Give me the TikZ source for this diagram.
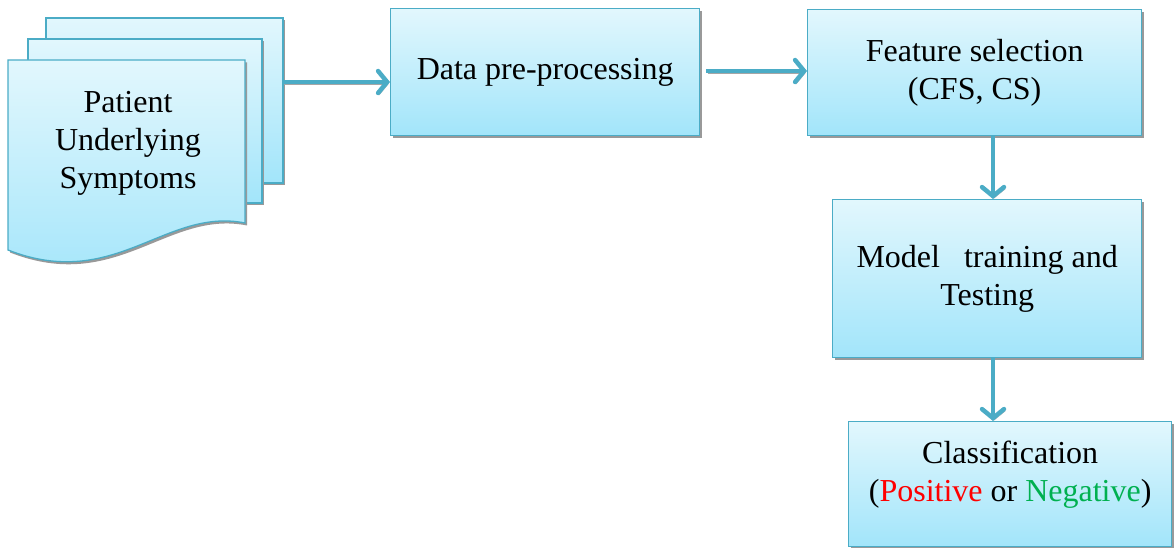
\documentclass[tikz,border=0pt]{standalone}
\usepackage{fontspec}
\setmainfont{Liberation Serif}
\usepackage{tikz}
\usetikzlibrary{arrows.meta, positioning, shadows}
\usepackage{xcolor}

\definecolor{edgeblue}{HTML}{4BACC6}
\definecolor{filltop}{HTML}{E2F7FD}
\definecolor{fillbot}{HTML}{A2E5FA}
\definecolor{posred}{HTML}{FF0000}
\definecolor{neggreen}{HTML}{00B050}

\begin{document}
\begin{tikzpicture}[
    x=1pt, y=-1pt,
    sheet/.style={draw=edgeblue, line width=1.3pt, top color=filltop, bottom color=fillbot,
                  drop shadow={shadow xshift=2pt, shadow yshift=-2.5pt, fill=black!40, opacity=1}},
    process/.style={sheet, rectangle, anchor=north west, align=center,
                    inner sep=0pt, font=\fontsize{32}{38}\selectfont},
    flow/.style={draw=edgeblue, line width=4.5pt,
                 -{Straight Barb[length=9pt, width=22pt, line cap=round]},
                 preaction={draw=black!35, transform canvas={xshift=1.2pt, yshift=-2pt}}},
]
\useasboundingbox (0,0) rectangle (1176,548);

% stacked sheets for the input records
\path[sheet] (46,18) rectangle (283,183);
\path[sheet] (28,39) rectangle (262,203);
\path[sheet] (8,60) -- (245,60) -- (245,223)
    .. controls (165,207) and (115,292) .. (8,250) -- cycle;
\node[align=center, font=\fontsize{32}{38}\selectfont] (docs) at (128,143)
    {Patient\\Underlying\\Symptoms};
\coordinate (docsout) at (283,82);

\node[process, minimum width=309pt, minimum height=127pt] (prep) at (390,8)
    {Data pre-processing};
\node[process, minimum width=334pt, minimum height=126pt] (feat) at (807,9)
    {Feature selection\\(CFS, CS)};
\node[process, minimum width=309pt, minimum height=158pt] (model) at (832,199)
    {Model\ \ \ training and\\Testing};
\node[process, minimum width=323pt, minimum height=125pt] (cls) at (848,421)
    {Classification\\(\textcolor{posred}{Positive} or \textcolor{neggreen}{Negative})\\[-12pt]~};

\draw[flow] (docsout) -- (prep.west |- docsout);
\draw[flow] ([xshift=6pt]prep.east |- 0,71) -- (feat.west |- 0,71);
\draw[flow] (feat.south -| 993,0) -- (model.north -| 993,0);
\draw[flow] (model.south -| 993,0) -- (cls.north -| 993,0);
\end{tikzpicture}
\end{document}
